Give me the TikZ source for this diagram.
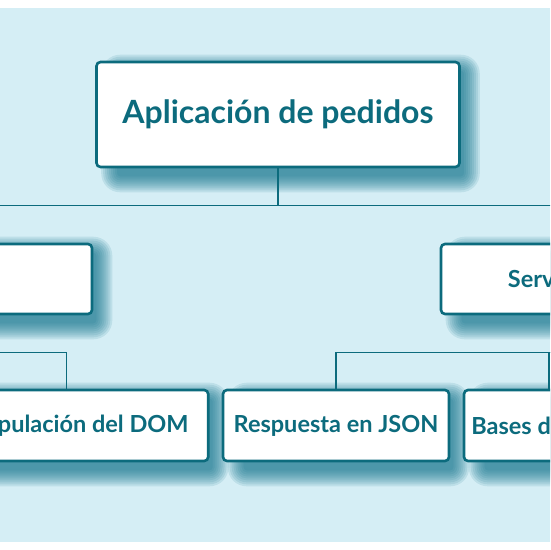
\documentclass[tikz,border=0pt]{standalone}
\usepackage{fontspec}
\setmainfont{Lato}
\usetikzlibrary{calc,backgrounds}
\definecolor{bgblue}{RGB}{213,238,245}
\definecolor{tealc}{RGB}{12,107,125}
\definecolor{shcol}{RGB}{18,115,140}
\begin{document}
\begin{tikzpicture}[x=1pt,y=-1pt,
  box/.style={draw=tealc, line width=2.6pt, fill=white, rounded corners=4pt,
    text=tealc, font=\bfseries\fontsize{23.5}{28}\selectfont, inner sep=0pt},
  link/.style={draw=tealc, line width=1.3pt},
  shadowlayer/.style={fill=shcol, fill opacity=0.12}]
\useasboundingbox (0,0) rectangle (550,550);
\clip (0,0) rectangle (550,550);

\coordinate (bus1) at (279,205.5);
\coordinate (bus2) at (0,352.7);

\node[box, minimum width=363pt, minimum height=105pt, font=\bfseries\fontsize{32}{38}\selectfont]
  (top) at (278,114.5) {Aplicación de pedidos};
\node[box, minimum width=222pt, minimum height=70pt] (cli) at (-19,279) {};
\node[box, minimum width=222pt, minimum height=70pt] (srv) at (552,279) {Servidor};
\node[box, minimum width=283pt, minimum height=71pt] (dom) at (66.7,425.5) {Manipulación del DOM};
\node[box, minimum width=226pt, minimum height=71pt] (json) at (336,425.5) {Respuesta en JSON};
\node[box, minimum width=170pt, minimum height=71pt] (db) at (549,425.5) {Bases de datos};

\begin{pgfonlayer}{background}
  \clip (0,0) rectangle (550,550);
  \fill[bgblue] (0,8) rectangle (550,542);
  \foreach \n in {top,cli,srv,dom,json,db}{
    \foreach \s in {0,2,...,16}{
      \fill[shadowlayer, rounded corners={\s pt+3pt}]
        ($(\n.north west)+(22-\s,10-\s)$) rectangle ($(\n.south east)+(3+\s,8+\s)$);
    }
  }
\end{pgfonlayer}

\draw[link] (top.south) -- (top.south |- bus1);
\draw[link] (cli.north) -- (cli.north |- bus1) -- (srv.north |- bus1) -- (srv.north);
\draw[link] (cli.south) -- (cli.south |- bus2) -- (dom.north |- bus2) -- (dom.north);
\draw[link] (srv.south) -- (srv.south |- bus2) -- (json.north |- bus2) -- (json.north);
\draw[link] (srv.south |- bus2) -- (db.north |- bus2) -- (db.north);
\end{tikzpicture}
\end{document}
